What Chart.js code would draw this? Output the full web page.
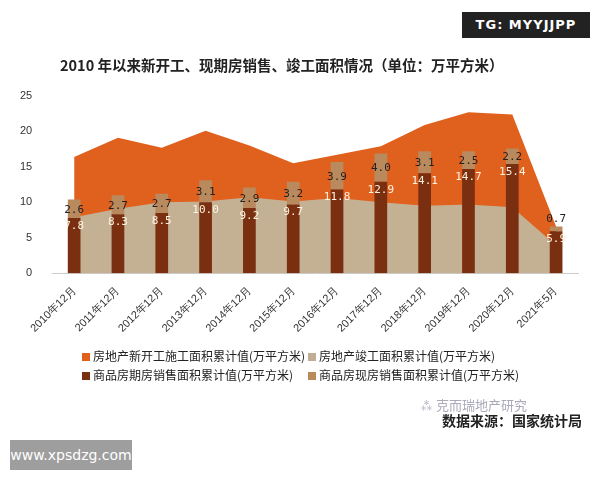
<!DOCTYPE html>
<html><head><meta charset="utf-8">
<script src="https://cdn.jsdelivr.net/npm/chart.js@4"></script>
<style>
body{margin:0;width:600px;height:480px;background:#fff;font-family:"Noto Sans CJK SC","Noto Sans",sans-serif;position:relative;overflow:hidden}
#wrap{position:absolute;left:0;top:0;width:600px;height:480px}
.t{position:absolute;white-space:nowrap}
.leg{position:absolute;font-size:12px;color:#222;white-space:nowrap}
.leg i{display:inline-block;width:8px;height:8px;margin-right:3px;vertical-align:0px}
</style></head><body>
<div id="wrap"><canvas id="c" width="600" height="480"></canvas></div>
<div class="t" style="left:462px;top:12px;width:128px;height:26px;background:#222;color:#fff;font:bold 13px 'DejaVu Sans';line-height:26px;text-align:center;letter-spacing:1px">TG: MYYJJPP</div>
<div class="t" style="left:60px;top:54px;font-weight:bold;font-size:14.5px;color:#222">2010 年以来新开工、现期房销售、竣工面积情况（单位：万平方米）</div>
<div class="leg" style="left:82px;top:347px"><i style="background:#e0601e"></i>房地产新开工施工面积累计值(万平方米)</div>
<div class="leg" style="left:308px;top:347px"><i style="background:#bfae93"></i>房地产竣工面积累计值(万平方米)</div>
<div class="leg" style="left:82px;top:366px"><i style="background:#7a2f10"></i>商品房期房销售面积累计值(万平方米)</div>
<div class="leg" style="left:308px;top:366px"><i style="background:#b98a5e"></i>商品房现房销售面积累计值(万平方米)</div>
<div class="t" style="left:420px;top:395px;font-size:13px;color:#aab">⁂ 克而瑞地产研究</div>
<div class="t" style="left:442px;top:410px;font-size:14px;font-weight:bold;color:#222">数据来源：国家统计局</div>
<div class="t" style="left:10px;top:440px;width:122px;height:30px;background:#9e9e9e;color:#fff;font:14px 'DejaVu Sans';line-height:30px;text-align:center">www.xpsdzg.com</div>
<script>
const categories=['2010年12月','2011年12月','2012年12月','2013年12月','2014年12月','2015年12月','2016年12月','2017年12月','2018年12月','2019年12月','2020年12月','2021年5月'];
const newStart=[16.4,19.1,17.7,20.1,18.0,15.5,16.7,17.9,20.9,22.7,22.4,6.6];
const completed=[7.9,9.1,10.0,10.1,10.7,10.1,10.6,10.0,9.5,9.7,9.3,3.9];
const futureSales=[7.8,8.3,8.5,10.0,9.2,9.7,11.8,12.9,14.1,14.7,15.4,5.9];
const spotSales=[2.6,2.7,2.7,3.1,2.9,3.2,3.9,4.0,3.1,2.5,2.2,0.7];
const yTicks=[0,5,10,15,20,25];
const labelPlugin={id:'lbl',afterDatasetsDraw(ch){
  const c=ch.ctx;c.save();c.font='11px "DejaVu Sans Mono"';c.textAlign='center';c.textBaseline='middle';
  const m0=ch.getDatasetMeta(0),m1=ch.getDatasetMeta(1),y=ch.scales.y;
  m0.data.forEach((b,i)=>{c.fillStyle='#fff3e0';c.fillText(futureSales[i].toFixed(1),b.x,Math.min(y.getPixelForValue(4.1),b.y+8));});
  m1.data.forEach((b,i)=>{c.fillStyle='#222';c.fillText(spotSales[i].toFixed(1),b.x,i==11?y.getPixelForValue(7.6):(b.y+b.base)/2+1);});
  c.restore();}};
new Chart(document.getElementById('c'),{
 data:{labels:categories,datasets:[
  {type:'bar',data:futureSales,backgroundColor:'#7a2f10',stack:'s',barPercentage:0.29,categoryPercentage:1,order:1},
  {type:'bar',data:spotSales,backgroundColor:'#b98a5e',stack:'s',barPercentage:0.29,categoryPercentage:1,order:1},
  {type:'line',data:completed,backgroundColor:'#c4b194',borderWidth:0,pointRadius:0,fill:'origin',tension:0,stack:'c',order:2},
  {type:'line',data:newStart,backgroundColor:'#e0601e',borderWidth:0,pointRadius:0,fill:'origin',tension:0,stack:'n',order:3}
 ]},
 options:{responsive:false,animation:false,
  layout:{padding:{top:96,left:8,right:22,bottom:142}},
  plugins:{legend:{display:false},tooltip:{enabled:false}},
  scales:{
   x:{stacked:true,offset:true,grid:{display:false,drawTicks:true},border:{color:'#ccc'},
      ticks:{maxRotation:45,minRotation:45,color:'#333',font:{size:11}}},
   y:{stacked:true,min:0,max:25,afterBuildTicks(a){a.ticks=yTicks.map(v=>({value:v}));},
      grid:{display:false},border:{display:false},ticks:{color:'#333',font:{size:11},padding:12}}
  }},
 plugins:[labelPlugin]});
</script></body></html>
